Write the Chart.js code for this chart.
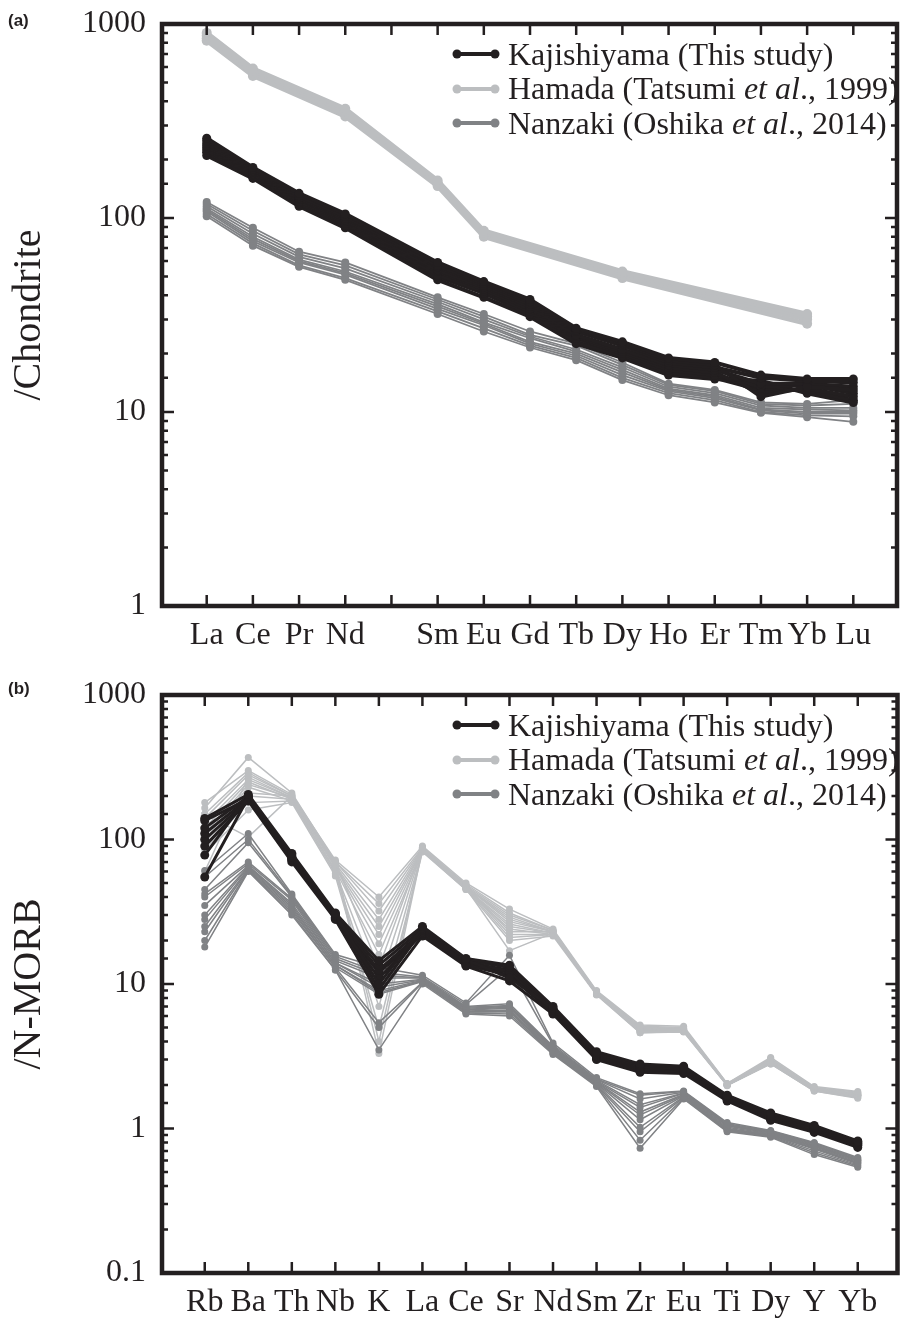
<!DOCTYPE html>
<html>
<head>
<meta charset="utf-8">
<script src="https://cdn.jsdelivr.net/npm/chart.js@4.4.1/dist/chart.umd.min.js"></script>
<style>
  body { margin: 0; background: #fff; width: 902px; height: 1320px; position: relative; overflow: hidden;
         font-family: "Liberation Serif", "Times New Roman", serif; color: #231f20; }
  canvas { position: absolute; left: 0; }
  #chartA { top: 0; }
  #chartB { top: 660px; }
  .tag { position: absolute; left: 8px; font: bold 17px "Liberation Sans", Arial, sans-serif; }
  .legend { position: absolute; left: 452px; font-size: 32px; }
  .legend div { display: flex; align-items: center; height: 34.5px; white-space: nowrap; }
  .legend svg { margin-right: 8px; }
</style>
</head>
<body>
<canvas id="chartA" width="902" height="660"></canvas>
<canvas id="chartB" width="902" height="660"></canvas>
<div class="tag" style="top:11px">(a)</div>
<div class="tag" style="top:679px">(b)</div>
<div class="legend" id="legA" style="top:37px"></div>
<div class="legend" id="legB" style="top:708px"></div>

<script>
const INK = "#231f20";
const LIGHT = "#bcbec0";
const GRAY = "#808285";
const SERIF = "'Liberation Serif', 'Times New Roman', serif";

// (a) chondrite-normalised REE; Pm left blank
const reeLabels = ["La", "Ce", "Pr", "Nd", "", "Sm", "Eu", "Gd", "Tb", "Dy", "Ho", "Er", "Tm", "Yb", "Lu"];

const kajiREE = [
  [258, 182, 134, 105, null, 59, 47, 38, 27, 23, 19, 18, 15.5, 14.8, 14.8],
  [250, 178, 130, 102, null, 57, 46, 37, 26.5, 22.5, 18.5, 17.5, 12, 13.5, 13],
  [242, 175, 127, 100, null, 56, 45, 36, 26, 22, 18, 17, 15, 14.5, 14.2],
  [236, 172, 125, 98, null, 54, 44, 35, 25, 21, 17.5, 16.5, 14, 14, 13.5],
  [230, 169, 122, 96, null, 53, 43, 34, 24.5, 20.5, 17, 16, 12.5, 13.2, 12],
  [224, 166, 120, 94, null, 51, 42, 33, 24, 20, 16.5, 15.5, 13.5, 13.8, 12.5],
  [218, 163, 118, 92, null, 50, 41, 32, 23, 19.5, 16, 15, 13, 13, 11.5],
  [210, 160, 115, 89, null, 48, 39, 31, 22.5, 19, 15.5, 14.8, 14.5, 12.5, 11.2]
];

const hamadaREE = [
  [900, 590, null, 366, null, 156, 86, null, null, 53, null, null, null, 32, null],
  [870, 575, null, 355, null, 152, 84, null, null, 52, null, null, null, 31, null],
  [845, 558, null, 344, null, 149, 82, null, null, 50.5, null, null, null, 30, null],
  [820, 540, null, 334, null, 146, 80, null, null, 49, null, null, null, 28.5, null]
];

const nanzakiREE = [
  [121, 89, 67, 59, null, 39, 32, 26, 22.5, 18, 14, 13, 11.2, 11, 11.5],
  [118, 86, 65, 57, null, 38, 31, 25, 22, 17.5, 13.8, 12.8, 11, 10.8, 11],
  [115, 83, 63, 55, null, 37, 30, 24.5, 21, 17, 13.5, 12.5, 10.8, 10.5, 10.5],
  [112, 80, 61, 53, null, 36, 29, 24, 20.5, 16.5, 13.2, 12.2, 10.5, 10.3, 10.2],
  [110, 78, 60, 52, null, 35, 28.5, 23, 20, 16, 13, 12, 10.3, 10, 10],
  [108, 76, 59, 51, null, 34, 28, 22.5, 19.5, 15.5, 12.8, 11.8, 10.2, 9.8, 9.8],
  [105, 74, 57, 49, null, 33, 27, 22, 19, 15, 12.5, 11.5, 10, 9.6, 9.5],
  [102, 72, 56, 48, null, 32, 26, 21.5, 18.5, 14.6, 12.2, 11.2, 9.9, 9.4, 8.9]
];

// (b) N-MORB-normalised spider diagram
const spiderLabels = ["Rb", "Ba", "Th", "Nb", "K", "La", "Ce", "Sr", "Nd", "Sm", "Zr", "Eu", "Ti", "Dy", "Y", "Yb"];

const kajiSpider = [
  [140, 205, 80, 31, 14.5, 25, 15, 13.5, 7, 3.4, 2.8, 2.7, 1.7, 1.28, 1.05, 0.82],
  [78, 200, 78, 30.5, 10, 24.5, 14.8, 11, 6.8, 3.3, 2.75, 2.65, 1.68, 1.26, 1.03, 0.81],
  [120, 198, 76, 30, 13.5, 24, 14.6, 13, 6.7, 3.25, 2.7, 2.6, 1.66, 1.24, 1.02, 0.8],
  [55, 195, 75, 30, 9.2, 23.5, 14.3, 12.2, 6.6, 3.2, 2.65, 2.58, 1.64, 1.22, 1.0, 0.79],
  [110, 192, 74, 29.5, 12.5, 23, 14, 12.5, 6.5, 3.15, 2.6, 2.55, 1.62, 1.2, 0.99, 0.78],
  [135, 190, 73, 29, 11, 22.5, 13.8, 12, 6.4, 3.1, 2.55, 2.5, 1.6, 1.18, 0.98, 0.77],
  [100, 188, 72, 28.5, 12, 22, 13.5, 11.5, 6.3, 3.05, 2.5, 2.45, 1.58, 1.16, 0.96, 0.76],
  [90, 185, 70, 28, 8.5, 21.5, 13.3, 10.5, 6.2, 3.0, 2.45, 2.4, 1.55, 1.14, 0.94, 0.74]
];

const hamadaSpider = [
  [180, 300, 205, 72, 40, 90, 50, 33, 24, 9, 5.2, 5.1, 2.05, 3.1, 1.95, 1.8],
  [165, 370, 210, 70, 36, 88, 49, 31, 23.5, 8.9, 5.1, 5.0, 2.04, 3.05, 1.92, 1.78],
  [150, 290, 200, 70, 32, 87, 48, 30, 23.5, 8.8, 5.0, 4.95, 2.03, 3.0, 1.9, 1.75],
  [140, 280, 200, 68, 28, 86, 47, 28, 23, 8.7, 4.9, 4.9, 2.02, 2.95, 1.88, 1.72],
  [130, 260, 195, 66, 25, 85, 47, 27, 23, 8.6, 4.8, 4.85, 2.01, 2.9, 1.86, 1.7],
  [120, 250, 190, 65, 22, 85, 46, 26, 22.5, 8.6, 4.8, 4.8, 2.0, 2.9, 1.85, 1.68],
  [110, 240, 195, 64, 19, 84, 46, 25, 22.5, 8.5, 4.7, 4.75, 2.0, 2.85, 1.84, 1.66],
  [100, 230, 185, 62, 16, 83, 45, 24, 22, 8.5, 4.6, 4.7, 1.99, 2.8, 1.82, 1.62],
  [95, 210, 200, 70, 13, 88, 48, 23, 23, 8.8, 5.0, 4.9, 2.02, 3.0, 1.9, 1.75],
  [90, 200, 190, 60, 10, 86, 47, 22, 22, 8.6, 4.8, 4.8, 2.0, 2.9, 1.86, 1.7],
  [85, 180, 185, 58, 7, 84, 46, 21, 22, 8.5, 4.7, 4.7, 1.99, 2.85, 1.84, 1.68],
  [80, 160, 180, 56, 5, 82, 45, 20, 21.5, 8.4, 4.6, 4.65, 1.98, 2.8, 1.82, 1.64],
  [150, 104, 200, 68, 4, 87, 47, 29, 23, 8.7, 4.9, 4.85, 2.01, 2.95, 1.88, 1.72],
  [60, 270, 195, 66, 3.3, 85, 46, 17, 22.5, 8.6, 4.8, 4.8, 2.0, 2.9, 1.86, 1.7]
];

const nanzakiSpider = [
  [61, 110, 42, 16, 13, 11.5, 7.4, 15.8, 3.9, 2.25, 1.74, 1.82, 1.1, 0.97, 0.8, 0.63],
  [55, 100, 41, 15.5, 12, 11.2, 7.2, 13, 3.8, 2.2, 1.7, 1.8, 1.08, 0.96, 0.79, 0.62],
  [45, 95, 40, 15, 11.5, 11, 7.0, 7.3, 3.7, 2.18, 1.6, 1.78, 1.06, 0.95, 0.78, 0.61],
  [42, 70, 39, 14.5, 11, 11, 6.9, 7.1, 3.65, 2.15, 1.46, 1.76, 1.05, 0.94, 0.77, 0.6],
  [40, 68, 38, 14, 10, 10.8, 6.8, 7.0, 3.6, 2.12, 1.4, 1.75, 1.04, 0.93, 0.76, 0.6],
  [35, 66, 36, 14, 9.5, 10.7, 6.7, 6.9, 3.55, 2.1, 1.3, 1.72, 1.02, 0.92, 0.75, 0.59],
  [30, 65, 35, 13.5, 9, 10.6, 6.6, 6.8, 3.5, 2.08, 1.24, 1.7, 1.0, 0.91, 0.74, 0.58],
  [28, 64, 34, 13.5, 8.7, 10.5, 6.5, 6.6, 3.45, 2.05, 1.15, 1.68, 0.99, 0.9, 0.73, 0.58],
  [25, 63, 33, 13, 8.5, 10.4, 6.4, 6.5, 3.4, 2.03, 1.02, 1.66, 0.98, 0.9, 0.72, 0.57],
  [23, 62, 32, 13, 5.4, 10.3, 6.4, 6.4, 3.35, 2.0, 0.95, 1.64, 0.97, 0.89, 0.7, 0.56],
  [20, 61, 31, 12.5, 5, 10.2, 6.3, 6.2, 3.3, 1.98, 0.83, 1.62, 0.96, 0.88, 0.68, 0.55],
  [18, 60, 30, 12.5, 3.5, 10, 6.2, 6.0, 3.25, 1.95, 0.73, 1.6, 0.95, 0.87, 0.66, 0.54]
];

const legendItems = [
  { color: INK, html: "Kajishiyama (This study)" },
  { color: LIGHT, html: "Hamada (Tatsumi <i>et al</i>., 1999)" },
  { color: GRAY, html: "Nanzaki (Oshika <i>et al</i>., 2014)" }
];

function isMajor(v) {
  const l = Math.log10(v);
  return Math.abs(l - Math.round(l)) < 1e-6;
}

// frame and inward tick marks on all four sides
const framePlugin = {
  id: "frame",
  afterDatasetsDraw(chart) {
    const { ctx, chartArea: a, scales: { x, y } } = chart;
    ctx.save();
    ctx.strokeStyle = INK;
    ctx.lineWidth = 2.5;
    ctx.beginPath();
    x.ticks.forEach(t => {
      if (t.value < x.min || t.value > x.max) return;
      const px = x.getPixelForValue(t.value);
      ctx.moveTo(px, a.bottom); ctx.lineTo(px, a.bottom - 11);
      ctx.moveTo(px, a.top); ctx.lineTo(px, a.top + 11);
    });
    y.ticks.forEach(t => {
      if (t.value < y.min || t.value > y.max) return;
      const py = y.getPixelForValue(t.value);
      const len = isMajor(t.value) ? 12 : 6;
      ctx.moveTo(a.left, py); ctx.lineTo(a.left + len, py);
      ctx.moveTo(a.right, py); ctx.lineTo(a.right - len, py);
    });
    ctx.stroke();
    ctx.lineWidth = 4.5;
    ctx.strokeRect(a.left, a.top, a.right - a.left, a.bottom - a.top);
    ctx.restore();
  }
};

function buildSets(groups) {
  const sets = [];
  groups.forEach(g => {
    g.rows.forEach(row => {
      sets.push({
        data: row.map((v, i) => ({ x: i + 1, y: v })),
        borderColor: g.color,
        backgroundColor: g.color,
        pointBackgroundColor: g.color,
        pointBorderWidth: 0,
        pointRadius: g.r,
        borderWidth: g.lw,
        spanGaps: true,
        tension: 0
      });
    });
  });
  return sets;
}

function makeChart(id, labels, groups, opt) {
  return new Chart(document.getElementById(id), {
    type: "line",
    data: { datasets: buildSets(groups) },
    options: {
      responsive: false,
      animation: false,
      layout: { padding: { top: opt.padTop, right: 0, left: 0, bottom: 0 } },
      plugins: { legend: { display: false }, tooltip: { enabled: false } },
      scales: {
        x: {
          type: "linear",
          min: opt.xMin,
          max: opt.xMax,
          afterFit: s => { s.height = opt.xAxisH; s.paddingLeft = 0; s.paddingRight = 0; },
          grid: { display: false, drawTicks: false },
          border: { display: false },
          ticks: {
            stepSize: 1, autoSkip: false, maxRotation: 0, includeBounds: false, padding: 10,
            color: INK, font: { family: SERIF, size: 32 },
            callback: v => labels[v - 1] || ""
          }
        },
        y: {
          type: "logarithmic",
          min: opt.yMin,
          max: opt.yMax,
          afterFit: s => { s.width = 162; s.paddingTop = 0; s.paddingBottom = 0; },
          grid: { display: false, drawTicks: false },
          border: { display: false },
          ticks: {
            autoSkip: false, padding: 16, color: INK, font: { family: SERIF, size: 32 },
            callback: v => isMajor(v) ? String(Number(v.toPrecision(6))) : ""
          },
          title: {
            display: true, text: opt.title, color: INK,
            font: { family: SERIF, size: 40 }, padding: { top: 5, bottom: 0 }
          }
        }
      }
    },
    plugins: [framePlugin]
  });
}

function buildLegend(id) {
  const box = document.getElementById(id);
  legendItems.forEach(it => {
    const row = document.createElement("div");
    row.innerHTML = `<svg width="48" height="12"><line x1="5" y1="6" x2="43" y2="6" stroke="${it.color}" stroke-width="4"/>` +
      `<circle cx="5" cy="6" r="4.5" fill="${it.color}"/><circle cx="43" cy="6" r="4.5" fill="${it.color}"/></svg>` +
      `<span>${it.html}</span>`;
    box.appendChild(row);
  });
}

// first dataset is drawn on top, so black goes first and the light grey last
makeChart("chartA", reeLabels, [
  { rows: kajiREE, color: INK, lw: 4, r: 4.5 },
  { rows: nanzakiREE, color: GRAY, lw: 1.8, r: 4 },
  { rows: hamadaREE, color: LIGHT, lw: 4.5, r: 5 }
], { xMin: 0.032, xMax: 15.946, yMin: 1, yMax: 1000, padTop: 24, xAxisH: 54, title: "/Chondrite" });

makeChart("chartB", spiderLabels, [
  { rows: kajiSpider, color: INK, lw: 3, r: 4.5 },
  { rows: nanzakiSpider, color: GRAY, lw: 1.5, r: 3.5 },
  { rows: hamadaSpider, color: LIGHT, lw: 1.5, r: 3.5 }
], { xMin: 0.018, xMax: 16.913, yMin: 0.1, yMax: 1000, padTop: 35, xAxisH: 47, title: "/N-MORB" });

buildLegend("legA");
buildLegend("legB");
</script>
</body>
</html>
